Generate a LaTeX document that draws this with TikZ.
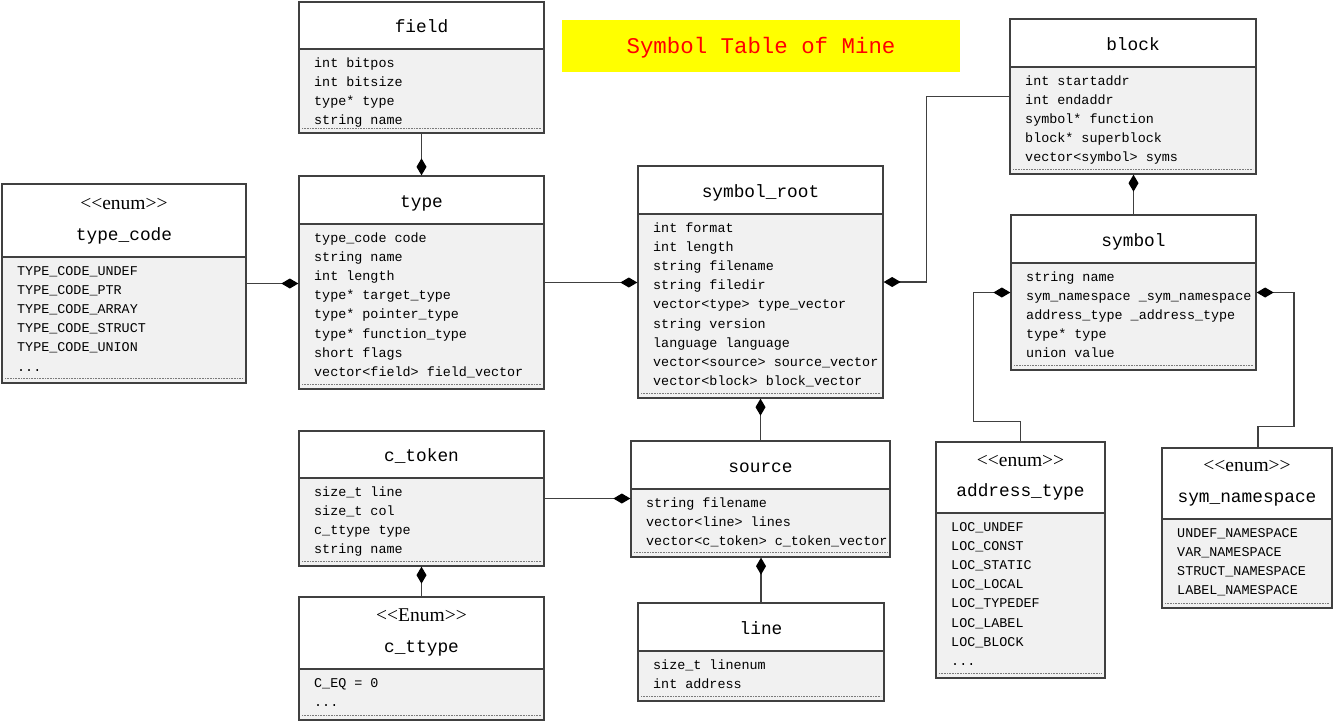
\documentclass[tikz,border=0pt]{standalone}
\usepackage{fontspec}
\newfontfamily\monof{Liberation Mono}
\newfontfamily\serf{Liberation Serif}
\usetikzlibrary{arrows.meta,fit}
\definecolor{bordercol}{HTML}{404040}
\definecolor{bodycol}{HTML}{F1F1F1}
\definecolor{dotcol}{HTML}{7A7A7A}
\definecolor{titlebg}{HTML}{FFFF00}
\definecolor{titlefg}{HTML}{FF0000}
\newcommand\threedots{...}
\tikzset{
  boxframe/.style={draw=bordercol, line width=1.3pt, inner sep=0pt},
  sepline/.style={draw=bordercol, line width=1.2pt},
  dotline/.style={draw=dotcol, line width=0.7pt, dash pattern=on 0.8pt off 0.8pt},
  itemtext/.style={anchor=base west, inner sep=0pt, font=\monof\fontsize{13.4}{16}\selectfont},
  titletext/.style={anchor=base, inner sep=0pt, font=\monof\fontsize{17.8}{20}\selectfont},
  stereotext/.style={anchor=base, inner sep=0pt, font=\serf\fontsize{19.5}{22}\selectfont},
  comp/.style={draw=bordercol, line width=1.4pt, -{Diamond[length=17pt,width=10pt,fill=black,color=black]}},
}
% #1 name, #2 x1, #3 y1, #4 x2, #5 y2, #6 header bottom, #7 title, #8 items
\newcommand\umlbox[8]{%
  \fill[bodycol] (#2,#3) rectangle (#4,#5);
  \fill[white] (#2,#3) rectangle (#4,#6);
  \draw[sepline] (#2,#6) -- (#4,#6);
  \draw[dotline] (#2+3,#5-5) -- (#4-3,#5-5);
  \node[boxframe, fit={(#2,#3) (#4,#5)}] (#1) {};
  \node[titletext] (#1-title) at ({(#2+#4)/2},#6-17) {#7};
  \foreach \itm [count=\i from 0] in {#8}
    \node[itemtext] (#1-i\i) at (#2+15,#6+18.5+19.1*\i) {\itm};
}
\begin{document}
\begin{tikzpicture}[x=1pt,y=-1pt]
\useasboundingbox (0,0) rectangle (1333,721);

% title
\node[fill=titlebg, minimum width=398pt, minimum height=52pt, inner sep=0pt] (titlebox) at (761,46) {};
\node[anchor=base, inner sep=0pt, text=titlefg, font=\monof\fontsize{22.4}{26}\selectfont] (titletext) at (761,53.5) {Symbol Table of Mine};

\umlbox{typecode}{2}{184}{246}{383}{257}{type\_code}{TYPE\_CODE\_UNDEF,TYPE\_CODE\_PTR,TYPE\_CODE\_ARRAY,TYPE\_CODE\_STRUCT,TYPE\_CODE\_UNION,\threedots}
\node[stereotext] (typecode-st) at (124,209) {<<enum>>};

\umlbox{field}{299}{2}{544}{133}{49}{field}{int bitpos,int bitsize,type* type,string name}

\umlbox{type}{299}{176}{544}{389}{224}{type}{type\_code code,string name,int length,type* target\_type,type* pointer\_type,type* function\_type,short flags,vector<field> field\_vector}

\umlbox{symroot}{638}{166}{883}{398}{214}{symbol\_root}{int format,int length,string filename,string filedir,vector<type> type\_vector,string version,language language,vector<source> source\_vector,vector<block> block\_vector}

\umlbox{block}{1010}{19}{1256}{174}{67}{block}{int startaddr,int endaddr,symbol* function,block* superblock,vector<symbol> syms}

\umlbox{symbol}{1011}{215}{1256}{370}{263}{symbol}{string name,sym\_namespace \_sym\_namespace,address\_type \_address\_type,type* type,union value}

\umlbox{ctoken}{299}{431}{544}{566}{478}{c\_token}{size\_t line,size\_t col,c\_ttype type,string name}

\umlbox{cttype}{299}{597}{544}{720}{669}{c\_ttype}{C\_EQ = 0,\threedots}
\node[stereotext] (cttype-st) at (421.5,621) {<<Enum>>};

\umlbox{source}{631}{441}{890}{557}{489}{source}{string filename,vector<line> lines,vector<c\_token> c\_token\_vector}

\umlbox{line}{638}{603}{884}{701}{651}{line}{size\_t linenum,int address}

\umlbox{addrtype}{936}{442}{1105}{678}{513}{address\_type}{LOC\_UNDEF,LOC\_CONST,LOC\_STATIC,LOC\_LOCAL,LOC\_TYPEDEF,LOC\_LABEL,LOC\_BLOCK,\threedots}
\node[stereotext] (addrtype-st) at (1020.5,466) {<<enum>>};

\umlbox{symns}{1162}{448}{1332}{608}{519}{sym\_namespace}{UNDEF\_NAMESPACE,VAR\_NAMESPACE,STRUCT\_NAMESPACE,LABEL\_NAMESPACE}
\node[stereotext] (symns-st) at (1247,471) {<<enum>>};

% connectors (composition)
\draw[comp] (field.south) -- (type.north);
\draw[comp] (typecode.east) -- (typecode.east -| type.west);
\draw[comp] (type.east) -- (type.east -| symroot.west);
\draw[comp] (block.west) -- ++(-83,0) |- (symroot.east);
\draw[comp] (symbol.north) -- (symbol.north |- block.south);
\draw[comp] (addrtype.north) -- ++(0,-20) -- ++(-47,0) |- (symbol.west);
\draw[comp] ([xshift=11pt]symns.north) -- ++(0,-21) -- ++(36,0) |- (symbol.east);
\draw[comp] (source.north) -- (source.north |- symroot.south);
\draw[comp] (ctoken.east) -- (ctoken.east -| source.west);
\draw[comp] (cttype.north) -- (cttype.north |- ctoken.south);
\draw[comp] (line.north) -- (line.north |- source.south);
\end{tikzpicture}
\end{document}
